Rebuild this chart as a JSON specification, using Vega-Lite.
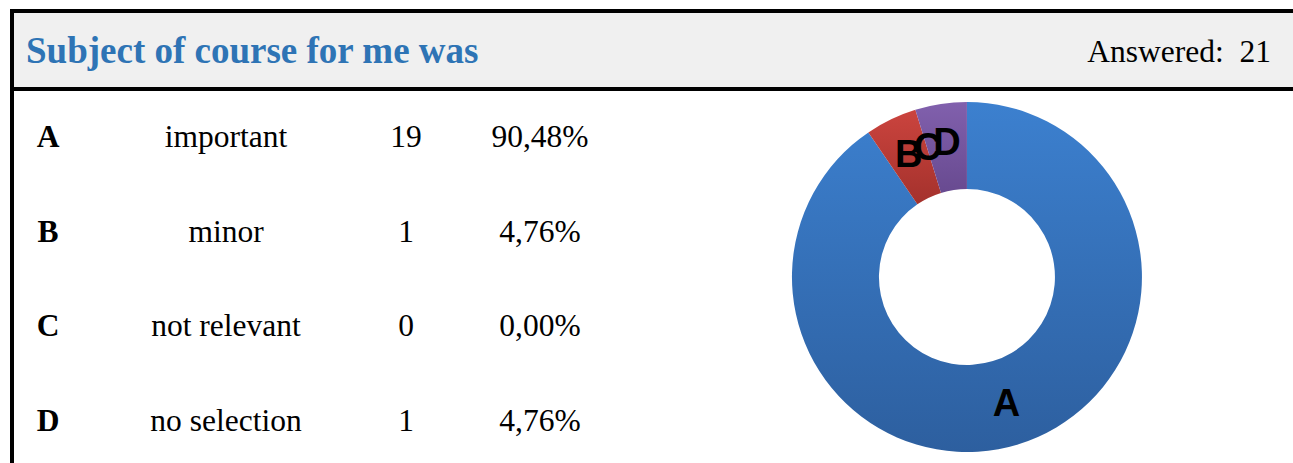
{
  "$schema": "https://vega.github.io/schema/vega-lite/v6.json",
  "background": "white",
  "padding": {"left": 10, "top": 9, "right": 0, "bottom": 0},
  "spacing": 0,
  "bounds": "flush",
  "datasets": {
    "options": [
      {"letter": "A", "answer": "important", "count": 19, "pct": "90,48%"},
      {"letter": "B", "answer": "minor", "count": 1, "pct": "4,76%"},
      {"letter": "C", "answer": "not relevant", "count": 0, "pct": "0,00%"},
      {"letter": "D", "answer": "no selection", "count": 1, "pct": "4,76%"}
    ],
    "header": [
      {"part": "title", "text": "Subject of course for me was"},
      {"part": "answered", "text": "Answered:\u00a0 21"}
    ]
  },
  "vconcat": [
    {
      "width": 1283,
      "height": 78,
      "view": {"fill": "#f0f0f0", "stroke": "black", "strokeWidth": 4},
      "data": {"name": "header"},
      "layer": [
        {
          "transform": [{"filter": "datum.part === 'title'"}],
          "mark": {"type": "text", "align": "left", "baseline": "alphabetic", "dx": 14, "dy": 13, "font": "Liberation Serif", "fontWeight": "bold", "fontSize": 37, "color": "#2e74b5"},
          "encoding": {
            "x": {"field": "part", "type": "nominal", "scale": {"type": "point", "domain": ["title", "answered"], "padding": 0}, "axis": null},
            "text": {"field": "text"}
          }
        },
        {
          "transform": [{"filter": "datum.part === 'answered'"}],
          "mark": {"type": "text", "align": "right", "baseline": "alphabetic", "dx": -24, "dy": 12, "font": "Liberation Serif", "fontSize": 31.5, "color": "black"},
          "encoding": {
            "x": {"field": "part", "type": "nominal", "axis": null},
            "text": {"field": "text"}
          }
        }
      ]
    },
    {
      "width": 1283,
      "height": 376,
      "view": {"stroke": null},
      "resolve": {"scale": {"x": "independent", "y": "independent", "theta": "independent"}},
      "layer": [
        {
          "data": {"values": [{}]},
          "mark": {"type": "rule", "color": "black", "strokeWidth": 4},
          "encoding": {"x": {"value": 0}}
        },
        {
          "data": {"values": [{}]},
          "mark": {"type": "rule", "color": "black", "strokeWidth": 4},
          "encoding": {"x": {"value": "width"}}
        },
        {
          "data": {"name": "options"},
          "encoding": {
            "y": {"field": "letter", "type": "nominal", "scale": {"type": "point", "domain": ["A", "B", "C", "D"], "padding": 0.479}, "axis": null}
          },
          "layer": [
            {
              "mark": {"type": "text", "align": "center", "baseline": "alphabetic", "dy": 12, "font": "Liberation Serif", "fontWeight": "bold", "fontSize": 31.5, "color": "black"},
              "encoding": {
                "x": {"datum": "letter", "type": "nominal", "scale": {"type": "point", "domain": ["letter", "answer", "count", "pct"], "range": [36, 576], "padding": 0}, "axis": null},
                "text": {"field": "letter"}
              }
            },
            {
              "mark": {"type": "text", "align": "center", "baseline": "alphabetic", "dx": -2, "dy": 12, "font": "Liberation Serif", "fontSize": 31.5, "color": "black"},
              "encoding": {
                "x": {"datum": "answer", "type": "nominal", "axis": null},
                "text": {"field": "answer"}
              }
            },
            {
              "mark": {"type": "text", "align": "center", "baseline": "alphabetic", "dx": -2, "dy": 12, "font": "Liberation Serif", "fontSize": 31.5, "color": "black"},
              "encoding": {
                "x": {"datum": "count", "type": "nominal", "axis": null},
                "text": {"field": "count"}
              }
            },
            {
              "mark": {"type": "text", "align": "center", "baseline": "alphabetic", "dx": -48, "dy": 12, "font": "Liberation Serif", "fontSize": 31.5, "color": "black"},
              "encoding": {
                "x": {"datum": "pct", "type": "nominal", "axis": null},
                "text": {"field": "pct"}
              }
            }
          ]
        },
        {
          "data": {"name": "options"},
          "encoding": {
            "x": {"datum": "chart", "type": "nominal", "scale": {"type": "point", "domain": ["table", "chart"], "padding": 0.5233}, "axis": null},
            "theta": {"field": "count", "type": "quantitative", "stack": true},
            "order": {"field": "letter", "type": "ordinal"}
          },
          "layer": [
            {
              "mark": {"type": "arc", "radius": 175, "radius2": 88},
              "encoding": {
                "detail": {"field": "letter"},
                "fill": {
                  "condition": [
                    {"test": "datum.letter === 'A'", "value": {"gradient": "linear", "x1": 0, "y1": 0, "x2": 0, "y2": 1, "stops": [{"offset": 0, "color": "#3c80cf"}, {"offset": 1, "color": "#2d5f9f"}]}},
                    {"test": "datum.letter === 'B'", "value": {"gradient": "linear", "x1": 0, "y1": 0, "x2": 0, "y2": 1, "stops": [{"offset": 0, "color": "#cb443e"}, {"offset": 1, "color": "#a4312c"}]}},
                    {"test": "datum.letter === 'C'", "value": "#9bbb59"}
                  ],
                  "value": {"gradient": "linear", "x1": 0, "y1": 0, "x2": 0, "y2": 1, "stops": [{"offset": 0, "color": "#8160ad"}, {"offset": 1, "color": "#684a90"}]}
                }
              }
            },
            {
              "mark": {"type": "text", "radius": 134, "font": "Liberation Sans", "fontWeight": "bold", "fontSize": 38, "color": "black", "baseline": "middle", "align": "center"},
              "encoding": {
                "detail": {"field": "letter"},
                "text": {"field": "letter"}
              }
            }
          ]
        }
      ]
    }
  ]
}
